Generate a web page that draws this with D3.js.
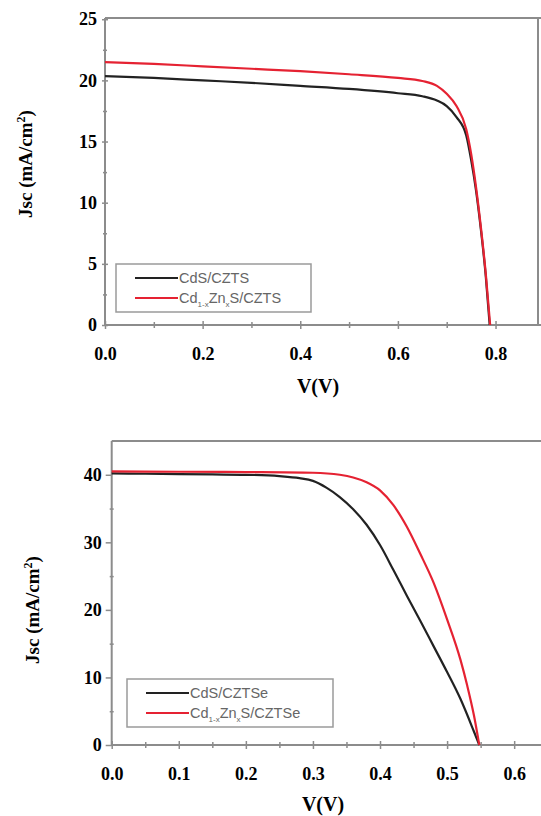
<!DOCTYPE html>
<html>
<head>
<meta charset="utf-8">
<script src="https://cdn.jsdelivr.net/npm/d3@7"></script>
<style>
  body { margin: 0; background: #fff; }
  svg text { font-family: "Liberation Serif", "Times New Roman", serif; }
</style>
</head>
<body>
<div id="graph"></div>
<script>
// panel 1: CZTS
const vCzts = [0, 0.1, 0.2, 0.3, 0.4, 0.5, 0.6, 0.65, 0.68, 0.7, 0.72, 0.74, 0.75, 0.76, 0.77, 0.78, 0.788];
const jCdsCzts = [20.35, 20.2, 20.0, 19.8, 19.55, 19.3, 18.95, 18.7, 18.35, 17.9, 17.0, 15.5, 13.5, 11.0, 7.8, 4.0, 0];
const vCztsZn = [0, 0.1, 0.2, 0.3, 0.4, 0.5, 0.6, 0.65, 0.68, 0.7, 0.72, 0.74, 0.75, 0.76, 0.77, 0.78, 0.789];
const jZnCzts = [21.5, 21.35, 21.15, 20.95, 20.75, 20.5, 20.2, 19.95, 19.55, 18.9, 17.9, 16.0, 14.0, 11.3, 8.0, 4.2, 0];

// panel 2: CZTSe
const vCztse = [0, 0.05, 0.1, 0.15, 0.2, 0.25, 0.28, 0.3, 0.32, 0.34, 0.36, 0.38, 0.4, 0.42, 0.44, 0.46, 0.48, 0.5, 0.52, 0.54, 0.548];
const jCdsCztse = [40.2, 40.15, 40.1, 40.05, 40.0, 39.8, 39.5, 39.1, 38.1, 36.7, 34.9, 32.6, 29.6, 25.9, 22.1, 18.4, 14.6, 10.8, 6.8, 2.0, 0];
const vCztseZn = [0, 0.1, 0.2, 0.3, 0.34, 0.36, 0.38, 0.4, 0.42, 0.44, 0.46, 0.48, 0.5, 0.52, 0.53, 0.54, 0.548];
const jZnCztse = [40.5, 40.45, 40.4, 40.3, 40.0, 39.6, 38.9, 37.7, 35.5, 32.3, 28.3, 24.0, 18.6, 12.6, 8.8, 4.4, 0];

const xTicksTop = [0, 0.2, 0.4, 0.6, 0.8];
const xMinorTop = [0.1, 0.3, 0.5, 0.7];
const yTicksTop = [0, 5, 10, 15, 20, 25];
const yMinorTop = [2.5, 7.5, 12.5, 17.5, 22.5];
const xTicksBot = [0, 0.1, 0.2, 0.3, 0.4, 0.5, 0.6];
const xMinorBot = [0.05, 0.15, 0.25, 0.35, 0.45, 0.55];
const yTicksBot = [0, 10, 20, 30, 40];
const yMinorBot = [5, 15, 25, 35];

const AXIS = "#8c8c8c";
const BLACK = "#222";
const RED = "#e52232";

const width = 541, height = 816;
const svg = d3.select("#graph").append("svg")
    .attr("width", width)
    .attr("height", height);

function drawPanel(p) {
    const xScale = d3.scaleLinear().domain(p.xDomain).range([p.left, p.right]);
    const yScale = d3.scaleLinear().domain(p.yDomain).range([p.bottom, p.top]);
    const g = svg.append("g");

    // frame (top/right)
    g.append("line").attr("x1", p.left).attr("x2", p.right + 10)
        .attr("y1", p.top).attr("y2", p.top)
        .attr("stroke", AXIS).attr("stroke-width", 2);
    if (p.rightBorder) {
        g.append("line").attr("x1", p.right).attr("x2", p.right)
            .attr("y1", p.top).attr("y2", p.bottom)
            .attr("stroke", AXIS).attr("stroke-width", 2);
    }

    // x axis
    const xAxis = g.append("g").attr("transform", `translate(0,${p.bottom})`)
        .call(d3.axisBottom(xScale).tickValues(p.xTicks).tickSize(8).tickPadding(14).tickFormat(d3.format(".1f")));
    xAxis.select(".domain").attr("d", `M${p.left},0H${width}`);
    xAxis.selectAll(".tick line").attr("y1", -4).attr("y2", 4);
    g.append("g").attr("transform", `translate(0,${p.bottom})`)
        .call(d3.axisBottom(xScale).tickValues(p.xMinor).tickSize(6).tickFormat(""))
        .call(a => a.select(".domain").remove())
        .selectAll(".tick line").attr("y1", -3).attr("y2", 3);

    // y axis
    const yAxis = g.append("g").attr("transform", `translate(${p.left},0)`)
        .call(d3.axisLeft(yScale).tickValues(p.yTicks).tickSize(p.yTickOut).tickPadding(p.yPad));
    yAxis.select(".domain").attr("d", `M0,${p.top}V${p.bottom + 1}`);
    if (p.yStraddle) yAxis.selectAll(".tick line").attr("x1", -3).attr("x2", 3);
    g.append("g").attr("transform", `translate(${p.left},0)`)
        .call(d3.axisLeft(yScale).tickValues(p.yMinor).tickSize(4).tickFormat(""))
        .call(a => a.select(".domain").remove())
        .selectAll(".tick line").attr("x1", -2).attr("x2", 2);

    [xAxis, yAxis].forEach(a => {
        a.selectAll("path, line").attr("stroke", AXIS).attr("stroke-width", 2);
        a.selectAll("text")
            .attr("fill", "#000")
            .style("font-family", "'Liberation Serif', 'Times New Roman', serif")
            .style("font-weight", "bold")
            .style("font-size", "18px");
    });
    g.selectAll(".tick line").attr("stroke", AXIS).attr("stroke-width", 1.5);

    // curves
    const line = d3.line().curve(d3.curveMonotoneX).x(d => xScale(d[0])).y(d => yScale(d[1]));
    p.series.forEach(s => {
        g.append("path")
            .datum(d3.zip(s.v, s.j))
            .attr("d", line)
            .attr("fill", "none")
            .attr("stroke", s.color)
            .attr("stroke-width", 2.2);
    });

    // legend
    const lg = g.append("g").attr("transform", `translate(${p.legend[0]},${p.legend[1]})`);
    lg.append("rect").attr("width", p.legend[2]).attr("height", 48)
        .attr("fill", "#fff").attr("stroke", "#9a9a9a").attr("stroke-width", 1.5);
    p.series.forEach((s, i) => {
        const yy = 14 + i * 20;
        lg.append("line").attr("x1", 19).attr("x2", 62).attr("y1", yy).attr("y2", yy)
            .attr("stroke", s.color).attr("stroke-width", 2.2);
        const t = lg.append("text").attr("x", 63).attr("y", yy + 5)
            .attr("fill", "#666")
            .style("font-family", "'Liberation Sans', Arial, sans-serif")
            .style("font-size", "14.5px");
        s.label.forEach(part => {
            const ts = t.append("tspan").text(part.t);
            if (part.sub) ts.attr("dy", 4).style("font-size", "8px");
            if (part.up) ts.attr("dy", -4);
        });
    });

    // axis titles
    svg.append("text")
        .attr("x", p.xLabel[0]).attr("y", p.xLabel[1])
        .attr("text-anchor", "middle")
        .style("font-weight", "bold").style("font-size", "20px")
        .text("V(V)");
    const yl = svg.append("text")
        .attr("transform", `translate(${p.yLabel[0]},${p.yLabel[1]}) rotate(-90)`)
        .attr("text-anchor", "middle")
        .style("font-weight", "bold").style("font-size", "19px");
    yl.append("tspan").text("Jsc (mA/cm");
    yl.append("tspan").text("2").attr("dy", -7).style("font-size", "12px");
    yl.append("tspan").text(")").attr("dy", 7);
}

drawPanel({
    xDomain: [0, 0.887], yDomain: [0, 25.1],
    left: 105, right: 538, top: 18, bottom: 325, rightBorder: true,
    xTicks: xTicksTop, xMinor: xMinorTop, yTicks: yTicksTop, yMinor: yMinorTop,
    yTickOut: 6, yPad: 2, yStraddle: true,
    legend: [116, 264, 195], xLabel: [318, 393], yLabel: [32, 164],
    series: [
        { v: vCzts, j: jCdsCzts, color: BLACK, label: [{ t: "CdS/CZTS" }] },
        { v: vCztsZn, j: jZnCzts, color: RED,
          label: [{ t: "Cd" }, { t: "1-x", sub: true }, { t: "Zn", up: true }, { t: "x", sub: true }, { t: "S/CZTS", up: true }] }
    ]
});

drawPanel({
    xDomain: [0, 0.64], yDomain: [0, 45],
    left: 111.7, right: 541, top: 441, bottom: 745, rightBorder: false,
    xTicks: xTicksBot, xMinor: xMinorBot, yTicks: yTicksBot, yMinor: yMinorBot,
    yTickOut: 6, yPad: 4, yStraddle: false,
    legend: [127, 679, 206], xLabel: [323, 811], yLabel: [39, 610],
    series: [
        { v: vCztse, j: jCdsCztse, color: BLACK, label: [{ t: "CdS/CZTSe" }] },
        { v: vCztseZn, j: jZnCztse, color: RED,
          label: [{ t: "Cd" }, { t: "1-x", sub: true }, { t: "Zn", up: true }, { t: "x", sub: true }, { t: "S/CZTSe", up: true }] }
    ]
});
</script>
</body>
</html>
